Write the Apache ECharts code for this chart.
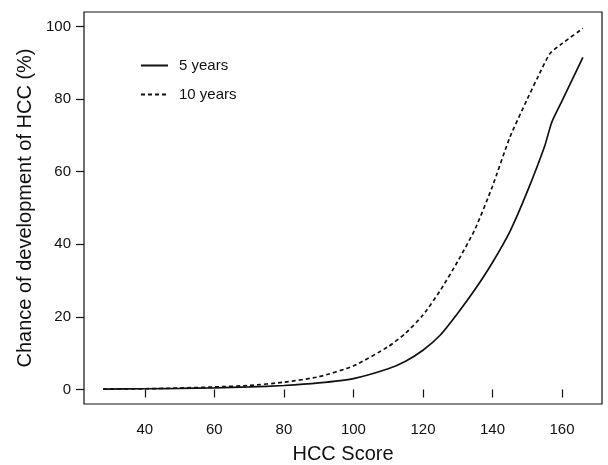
<!DOCTYPE html>
<html>
<head>
<meta charset="utf-8">
<script src="https://cdn.jsdelivr.net/npm/echarts@6/dist/echarts.min.js"></script>
<style>html,body{margin:0;padding:0;background:#fff}#c{width:608px;height:465px}</style>
</head>
<body>
<div id="c"></div>
<script>
// Data
const scores5 = [28, 40, 50, 60, 70, 80, 90, 100, 110, 115, 120, 125, 130, 135, 140, 145, 150, 155, 157, 160, 166];
const risk5   = [0.1, 0.2, 0.3, 0.45, 0.7, 1.1, 1.8, 3.0, 5.7, 7.8, 10.8, 15, 21, 27.6, 35, 43.5, 54.5, 67, 73.5, 79.5, 91.5];
const scores10 = [28, 40, 50, 60, 70, 80, 90, 100, 110, 115, 120, 125, 130, 135, 140, 145, 150, 153, 156.5, 160, 166];
const risk10   = [0.1, 0.2, 0.4, 0.7, 1.1, 2.0, 3.5, 6.5, 11.8, 15.5, 20.5, 27.3, 35.3, 44.2, 56, 69.5, 80, 86, 92.5, 95.3, 99.5];
const xTicks = [40, 60, 80, 100, 120, 140, 160];
const yTicks = [0, 20, 40, 60, 80, 100];
const seriesNames = ['5 years', '10 years'];
const xTitle = 'HCC Score';
const yTitle = 'Chance of development of HCC (%)';

const font = '"Liberation Sans", Arial, Helvetica, sans-serif';
const ink = '#111';
const pairs = (xs, ys) => xs.map((x, i) => [x, ys[i]]);

const chart = echarts.init(document.getElementById('c'), null, {renderer: 'canvas'});
chart.setOption({
  animation: false,
  backgroundColor: '#fff',
  textStyle: {fontFamily: font, color: ink},
  grid: {left: 84, right: 6, top: 12, bottom: 61, containLabel: false, outerBoundsMode: 'none',
         show: true, borderColor: ink, borderWidth: 1.2, backgroundColor: 'transparent'},
  legend: {
    orient: 'vertical', left: 140, top: 58, padding: 0,
    itemWidth: 27, itemHeight: 14, itemGap: 14,
    itemStyle: {opacity: 0},
    textStyle: {fontFamily: font, fontSize: 15, color: ink, padding: [0, 0, 0, 6]},
    data: seriesNames
  },
  xAxis: {
    type: 'value', min: 22.5, max: 171.5,
    name: xTitle, nameLocation: 'middle', nameGap: 40,
    nameTextStyle: {fontFamily: font, fontSize: 20, color: ink},
    axisLine: {show: false},
    splitLine: {show: false},
    axisTick: {show: true, inside: false, length: 8, customValues: xTicks, lineStyle: {color: ink, width: 1.2}},
    axisLabel: {customValues: xTicks, fontFamily: font, fontSize: 15, color: ink, margin: 18}
  },
  yAxis: {
    type: 'value', min: -4, max: 104,
    name: yTitle, nameLocation: 'middle', nameGap: 41,
    nameTextStyle: {fontFamily: font, fontSize: 20, color: ink},
    axisLine: {show: false},
    splitLine: {show: false},
    axisTick: {show: true, inside: false, length: 8, customValues: yTicks, lineStyle: {color: ink, width: 1.2}},
    axisLabel: {customValues: yTicks, fontFamily: font, fontSize: 15, color: ink, margin: 13}
  },
  series: [
    {
      name: seriesNames[0], type: 'line', data: pairs(scores5, risk5),
      showSymbol: false, symbol: 'none', smooth: 0.2,
      lineStyle: {color: ink, width: 1.7, type: 'solid'}, itemStyle: {color: ink}
    },
    {
      name: seriesNames[1], type: 'line', data: pairs(scores10, risk10),
      showSymbol: false, symbol: 'none', smooth: 0.2,
      lineStyle: {color: ink, width: 1.7, type: [4, 3]}, itemStyle: {color: ink}
    }
  ]
});
</script>
</body>
</html>
